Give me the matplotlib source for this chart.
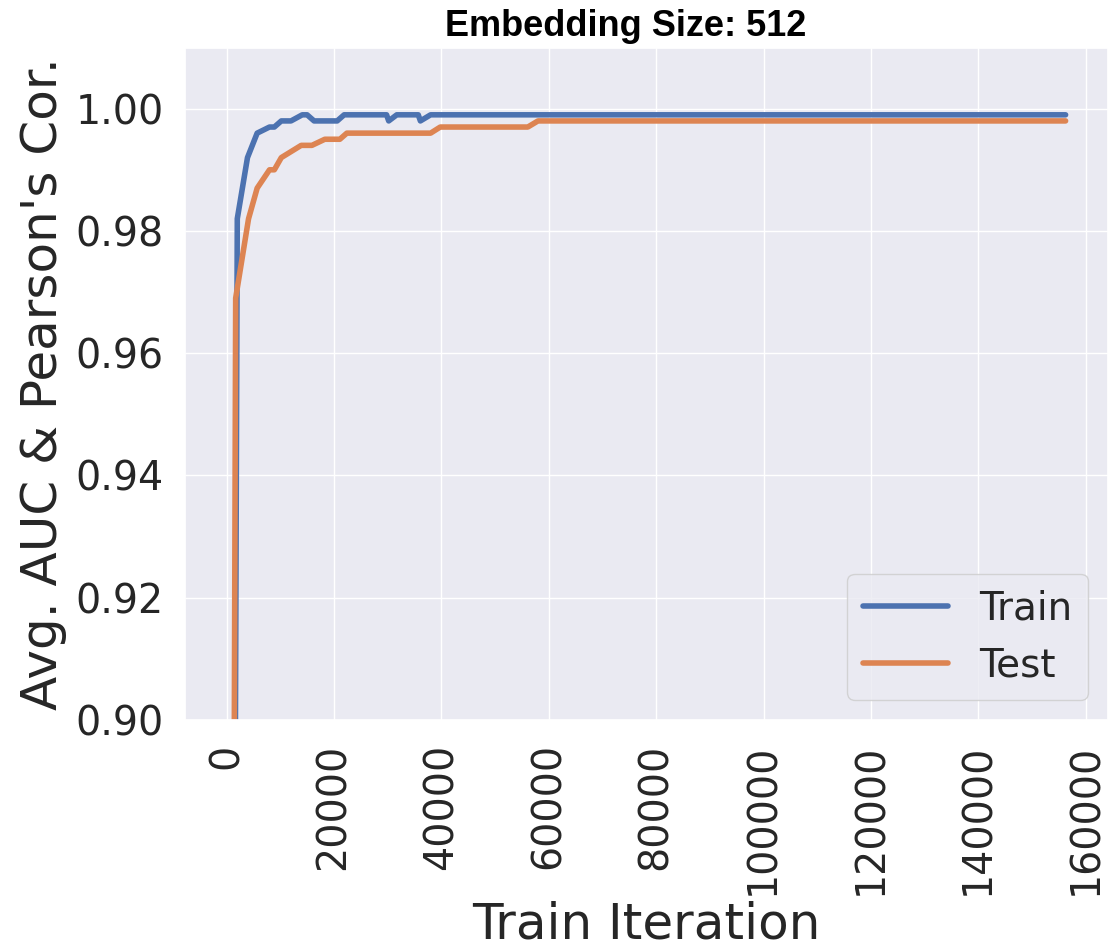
import matplotlib
matplotlib.use("Agg")
import matplotlib.pyplot as plt
import seaborn as sns
import numpy as np

# values
train_iter = [0, 2000, 3900, 5700, 8000, 8900, 10200, 12000, 14100, 15000, 16300,
              20600, 21900, 29800, 30200, 31700, 35700, 36100, 38000, 156250]
train_score = [0.5, 0.982, 0.992, 0.996, 0.997, 0.997, 0.998, 0.998, 0.999, 0.999, 0.998,
               0.998, 0.999, 0.999, 0.998, 0.999, 0.999, 0.998, 0.999, 0.999]

test_iter = [0, 1700, 4100, 5700, 8000, 8900, 10200, 13900, 15900, 18300, 21100,
             22400, 38000, 39800, 56100, 58000, 156250]
test_score = [0.5, 0.969, 0.982, 0.987, 0.990, 0.990, 0.992, 0.994, 0.994, 0.995, 0.995,
              0.996, 0.996, 0.997, 0.997, 0.998, 0.998]

sns.set_theme(style="darkgrid")
palette = sns.color_palette("deep")

fig = plt.figure(figsize=(11.12, 9.52), dpi=100)
ax = fig.add_axes([0.166, 0.244, 0.830, 0.706])

ax.plot(train_iter, train_score, color=palette[0], lw=4, label="Train")
ax.plot(test_iter, test_score, color=palette[1], lw=4, label="Test")

ax.set_ylim(0.90, 1.01)
ax.set_yticks(np.arange(0.90, 1.001, 0.02))
ax.yaxis.set_major_formatter(matplotlib.ticker.FormatStrFormatter("%.2f"))
ax.set_xticks(np.arange(0, 160001, 20000))
ax.tick_params(axis="x", labelsize=28.5, labelrotation=90, colors="#262626", pad=11)
ax.tick_params(axis="y", labelsize=28.5, colors="#262626", pad=9)

ax.set_xlabel("Train Iteration", fontsize=36, color="#262626", labelpad=4)
ax.set_ylabel("Avg. AUC & Pearson's Cor.", fontsize=36, color="#262626", labelpad=6)

# title sits a little left of the axes centre in the reference
fig.text(626 / 1112, 1 - 27 / 952, "Embedding Size: 512", fontsize=26, fontweight="bold",
         color="black", ha="center", va="center",
         family=["Liberation Sans Narrow", "Liberation Sans", "DejaVu Sans"])

ax.legend(loc="lower right", fontsize=28, handlelength=2.2)

fig.savefig("out.png", dpi=100)
